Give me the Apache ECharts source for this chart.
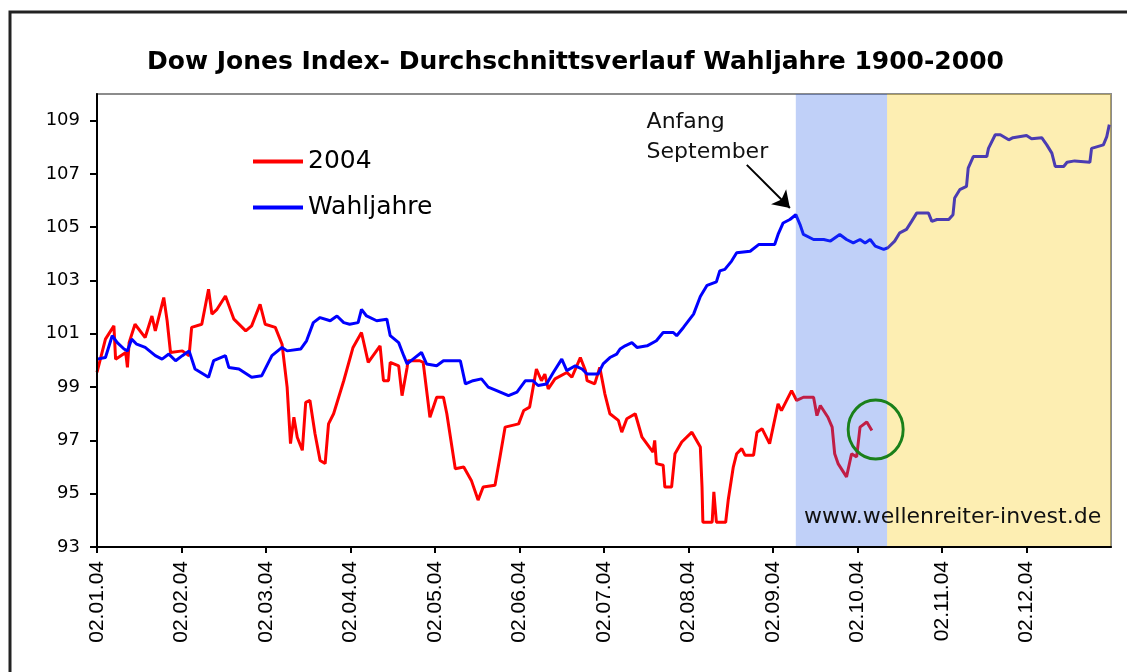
<!DOCTYPE html>
<html>
<head>
<meta charset="utf-8">
<script src="https://cdn.jsdelivr.net/npm/echarts/dist/echarts.min.js"></script>
<style>
html, body { margin: 0; padding: 0; background: #fff; }
#chart { width: 1127px; height: 672px; }
</style>
</head>
<body>
<div id="chart"></div>
<script>
// x = months since 02.01.04, y = index level
var titleText = 'Dow Jones Index- Durchschnittsverlauf Wahljahre 1900-2000'
var monthLabels = ['02.01.04', '02.02.04', '02.03.04', '02.04.04', '02.05.04', '02.06.04',
	'02.07.04', '02.08.04', '02.09.04', '02.10.04', '02.11.04', '02.12.04']
var monthTicks = [0, 1, 2, 3, 4, 5, 6, 7, 8, 9, 10, 11]
var yTicks = [93, 95, 97, 99, 101, 103, 105, 107, 109]

var line2004 = [[0, 99.55], [0.1, 100.8], [0.2, 101.3], [0.22, 100.05], [0.34, 100.3], [0.36, 99.74], [0.38, 100.67],
	[0.45, 101.36], [0.57, 100.86], [0.65, 101.67], [0.69, 101.11], [0.79, 102.36], [0.83, 101.49], [0.87, 100.3],
	[1.01, 100.36], [1.09, 100.18], [1.12, 101.24], [1.24, 101.36], [1.32, 102.67], [1.36, 101.74], [1.42, 101.92],
	[1.52, 102.42], [1.62, 101.55], [1.76, 101.11], [1.83, 101.3], [1.93, 102.11], [1.99, 101.36], [2.11, 101.24],
	[2.19, 100.61], [2.25, 99.0], [2.29, 96.88], [2.33, 97.87], [2.37, 97.12], [2.43, 96.63], [2.47, 98.43],
	[2.52, 98.5], [2.58, 97.25], [2.64, 96.25], [2.7, 96.13], [2.74, 97.62], [2.8, 98.0], [2.92, 99.24],
	[3.03, 100.49], [3.13, 101.05], [3.21, 99.93], [3.35, 100.55], [3.39, 99.24], [3.45, 99.24], [3.47, 99.93],
	[3.57, 99.8], [3.61, 98.68], [3.67, 99.74], [3.68, 99.99], [3.82, 99.99], [3.86, 99.93], [3.94, 97.87],
	[4.02, 98.62], [4.1, 98.62], [4.14, 98.0], [4.24, 95.94], [4.34, 96.0], [4.43, 95.5], [4.51, 94.76],
	[4.57, 95.25], [4.71, 95.32], [4.77, 96.4], [4.83, 97.5], [4.99, 97.62], [5.05, 98.12], [5.12, 98.25],
	[5.2, 99.68], [5.26, 99.24], [5.3, 99.49], [5.34, 98.93], [5.42, 99.31], [5.56, 99.55], [5.62, 99.37],
	[5.72, 100.11], [5.78, 99.62], [5.8, 99.24], [5.89, 99.12], [5.95, 99.74], [6.01, 98.75], [6.07, 98.0],
	[6.17, 97.75], [6.21, 97.31], [6.27, 97.81], [6.37, 98.0], [6.45, 97.12], [6.58, 96.56], [6.6, 97.0],
	[6.62, 96.13], [6.7, 96.07], [6.72, 95.25], [6.8, 95.25], [6.84, 96.5], [6.92, 96.94], [7.04, 97.31],
	[7.14, 96.75], [7.16, 95.25], [7.17, 93.93], [7.28, 93.93], [7.3, 95.07], [7.33, 93.93], [7.44, 93.93],
	[7.47, 94.76], [7.53, 96.0], [7.57, 96.5], [7.63, 96.69], [7.67, 96.44], [7.77, 96.44], [7.81, 97.31],
	[7.87, 97.44], [7.96, 96.88], [8.06, 98.37], [8.1, 98.12], [8.22, 98.87], [8.28, 98.5], [8.36, 98.62],
	[8.48, 98.62], [8.52, 97.93], [8.56, 98.31], [8.65, 97.87], [8.7, 97.5], [8.73, 96.5], [8.77, 96.13],
	[8.87, 95.63], [8.93, 96.5], [8.99, 96.38], [9.03, 97.5], [9.11, 97.69], [9.17, 97.37]]

var lineWahl = [[0, 100.05], [0.1, 100.11], [0.18, 100.93], [0.24, 100.67], [0.32, 100.43], [0.36, 100.36],
	[0.41, 100.8], [0.47, 100.61], [0.57, 100.49], [0.69, 100.18], [0.77, 100.05], [0.85, 100.24], [0.93, 99.99],
	[1.01, 100.18], [1.09, 100.36], [1.16, 99.68], [1.32, 99.37], [1.38, 99.99], [1.52, 100.18], [1.56, 99.74],
	[1.68, 99.68], [1.83, 99.37], [1.95, 99.43], [2.07, 100.18], [2.19, 100.49], [2.25, 100.36], [2.41, 100.43],
	[2.48, 100.74], [2.56, 101.42], [2.64, 101.61], [2.76, 101.49], [2.84, 101.67], [2.92, 101.42], [2.99, 101.36],
	[3.09, 101.42], [3.13, 101.92], [3.19, 101.67], [3.31, 101.49], [3.43, 101.55], [3.47, 100.93], [3.57, 100.67],
	[3.63, 100.18], [3.67, 99.87], [3.74, 100.05], [3.84, 100.3], [3.9, 99.87], [4.02, 99.8], [4.1, 99.99],
	[4.3, 99.99], [4.36, 99.12], [4.45, 99.24], [4.55, 99.31], [4.63, 99.0], [4.73, 98.87], [4.87, 98.68],
	[4.97, 98.81], [5.07, 99.24], [5.16, 99.24], [5.22, 99.06], [5.32, 99.12], [5.4, 99.55], [5.5, 100.05],
	[5.56, 99.62], [5.66, 99.8], [5.74, 99.68], [5.8, 99.49], [5.93, 99.49], [5.99, 99.87], [6.07, 100.11],
	[6.15, 100.24], [6.19, 100.43], [6.25, 100.55], [6.33, 100.67], [6.39, 100.49], [6.51, 100.55], [6.62, 100.74],
	[6.7, 101.05], [6.82, 101.05], [6.86, 100.93], [6.94, 101.24], [7.06, 101.74], [7.14, 102.4], [7.22, 102.82],
	[7.33, 102.95], [7.37, 103.36], [7.43, 103.42], [7.51, 103.73], [7.57, 104.04], [7.73, 104.1], [7.83, 104.35],
	[8.02, 104.35], [8.06, 104.73], [8.12, 105.16], [8.2, 105.29], [8.27, 105.47], [8.32, 105.1], [8.36, 104.73],
	[8.48, 104.54], [8.6, 104.54], [8.68, 104.48], [8.79, 104.73], [8.87, 104.54], [8.95, 104.41], [9.03, 104.54],
	[9.09, 104.41], [9.15, 104.54], [9.21, 104.29], [9.31, 104.17], [9.36, 104.23], [9.44, 104.48], [9.5, 104.79],
	[9.58, 104.92], [9.64, 105.22], [9.7, 105.53], [9.84, 105.53], [9.88, 105.22], [9.94, 105.29], [10.08, 105.29],
	[10.13, 105.47], [10.15, 106.1], [10.21, 106.41], [10.29, 106.53], [10.31, 107.22], [10.37, 107.65],
	[10.53, 107.65], [10.55, 107.96], [10.63, 108.47], [10.69, 108.47], [10.79, 108.28], [10.84, 108.36],
	[11.0, 108.44], [11.06, 108.32], [11.18, 108.36], [11.24, 108.09], [11.3, 107.78], [11.34, 107.28],
	[11.44, 107.28], [11.48, 107.44], [11.57, 107.49], [11.75, 107.44], [11.77, 107.96], [11.91, 108.09],
	[11.95, 108.4], [11.98, 108.85]]

// shaded periods (months)
var septBand = [8.27, 9.35]
var lateBand = [9.35, 12]

// annotations
var circleAt = [9.215, 97.41]
var arrowFrom = [7.69, 107.34]
var arrowTo = [8.2, 105.72]
var noteAt = [6.51, 109.5]
var siteAt = [11.89, 94.08]

var chart = echarts.init(document.getElementById('chart'))

var legendText = { fontFamily: 'DejaVu Sans', fontSize: 25, color: '#000' }

var option = {
	animation: false,
	backgroundColor: '#fff',
	title: {
		text: titleText,
		left: 147,
		top: 50,
		padding: 0,
		textStyle: { fontFamily: 'DejaVu Sans', fontWeight: 'bold', fontSize: 25, color: '#000' }
	},
	legend: [
		{ data: ['2004'], left: 253, top: 149, padding: 0, icon: 'rect', itemWidth: 50, itemHeight: 4, selectedMode: false, textStyle: legendText },
		{ data: ['Wahljahre'], left: 253, top: 195, padding: 0, icon: 'rect', itemWidth: 50, itemHeight: 4, selectedMode: false, textStyle: legendText }
	],
	grid: { left: 97, right: 16, top: 94, bottom: 125, show: true, borderColor: '#8c8c8c', borderWidth: 2 },
	xAxis: {
		type: 'value', min: 0, max: 12, z: 20,
		axisLine: { lineStyle: { color: '#000', width: 2 } },
		axisTick: { customValues: monthTicks, length: 6, lineStyle: { color: '#000', width: 2 } },
		axisLabel: {
			customValues: monthTicks, rotate: 90, margin: 14,
			fontFamily: 'Liberation Sans', fontSize: 21, color: '#000',
			formatter: function (v) { return monthLabels[Math.round(v)] }
		},
		splitLine: { show: false }
	},
	yAxis: {
		type: 'value', min: 93, max: 110, z: 20,
		axisLine: { show: true, lineStyle: { color: '#000', width: 2 } },
		axisTick: { show: true, customValues: yTicks, length: 7, lineStyle: { color: '#000', width: 2 } },
		axisLabel: { customValues: yTicks, margin: 17, fontFamily: 'DejaVu Sans', fontSize: 18, color: '#000' },
		splitLine: { show: false }
	},
	graphic: [{
		type: 'rect', silent: true, z: 100,
		shape: { x: 10, y: 12, width: 1200, height: 800 },
		style: { fill: 'none', stroke: '#222', lineWidth: 3 }
	}],
	series: [
		{
			name: '2004', type: 'line', data: line2004, symbol: 'none', z: 2, silent: true,
			lineStyle: { color: '#ff0000', width: 3 }, itemStyle: { color: '#ff0000' }
		},
		{
			name: 'Wahljahre', type: 'line', data: lineWahl, symbol: 'none', z: 2, silent: true,
			lineStyle: { color: '#0000ff', width: 3 }, itemStyle: { color: '#0000ff' }
		},
		{
			// tinted overlay drawn above the lines, as in the original
			name: 'bands', type: 'line', data: [], z: 5, silent: true,
			markArea: {
				silent: true, z: 10,
				data: [
					[{ xAxis: septBand[0], itemStyle: { color: 'rgba(47,100,233,0.3)', opacity: 1 } }, { xAxis: septBand[1] }],
					[{ xAxis: lateBand[0], itemStyle: { color: 'rgba(250,200,0,0.3)', opacity: 1 } }, { xAxis: lateBand[1] }]
				]
			}
		},
		{
			name: 'notes', type: 'scatter', data: [circleAt], z: 12, silent: true,
			symbol: 'circle', symbolSize: [55, 59],
			itemStyle: { color: 'rgba(0,0,0,0)', borderColor: '#1a801a', borderWidth: 3, opacity: 1 },
			markLine: {
				silent: true, z: 30, symbol: ['none', 'arrow'], symbolSize: 16,
				lineStyle: { color: '#000', width: 2, type: 'solid' },
				label: { show: false },
				data: [[{ coord: arrowFrom }, { coord: arrowTo }]]
			},
			markPoint: {
				silent: true, z: 30, symbol: 'rect', symbolSize: 1,
				itemStyle: { color: 'rgba(0,0,0,0)' },
				data: [
					{
						name: 'Anfang\nSeptember', coord: noteAt,
						label: { show: true, formatter: '{b}', position: [0, 0], align: 'left', verticalAlign: 'top',
							fontFamily: 'DejaVu Sans', fontSize: 22, lineHeight: 30, color: '#111' }
					},
					{
						name: 'www.wellenreiter-invest.de', coord: siteAt,
						label: { show: true, formatter: '{b}', position: [0, 0], align: 'right', verticalAlign: 'middle',
							fontFamily: 'DejaVu Sans', fontSize: 22, color: '#111' }
					}
				]
			}
		}
	]
}

chart.setOption(option)
</script>
</body>
</html>
